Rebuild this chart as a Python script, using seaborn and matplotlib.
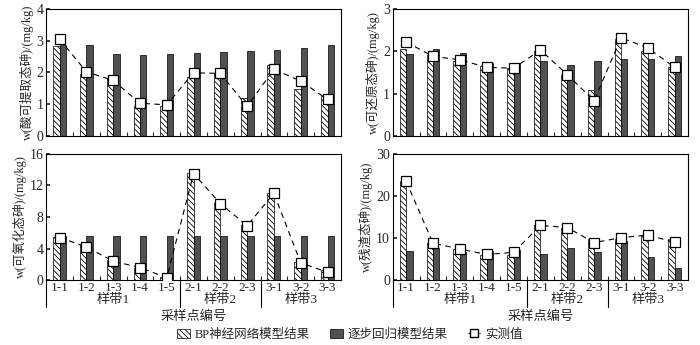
import matplotlib
matplotlib.use("Agg")
import matplotlib.pyplot as plt
import seaborn as sns
import pandas as pd
import numpy as np
from matplotlib.patches import Patch
from matplotlib.lines import Line2D

sites = ["1-1", "1-2", "1-3", "1-4", "1-5", "2-1", "2-2", "2-3", "3-1", "3-2", "3-3"]
groups = ["样带1", "样带2", "样带3"]
group_sizes = [5, 3, 3]

acid_bp = [2.82, 1.95, 1.83, 0.95, 0.95, 1.85, 1.97, 1.20, 2.25, 1.48, 1.27]
acid_sw = [2.88, 2.88, 2.58, 2.55, 2.57, 2.62, 2.63, 2.68, 2.72, 2.77, 2.85]
acid_obs = [3.05, 2.02, 1.75, 1.03, 0.98, 1.99, 1.97, 0.93, 2.10, 1.73, 1.15]

red_bp = [2.05, 1.92, 1.78, 1.65, 1.60, 2.00, 1.45, 1.08, 2.28, 2.00, 1.62]
red_sw = [1.93, 2.05, 1.95, 1.72, 1.72, 1.77, 1.68, 1.78, 1.82, 1.82, 1.88]
red_obs = [2.22, 1.88, 1.80, 1.62, 1.60, 2.03, 1.45, 0.83, 2.32, 2.08, 1.62]

oxi_bp = [5.5, 4.5, 2.5, 1.5, 0.4, 13.6, 9.8, 7.0, 11.1, 2.3, 1.3]
oxi_sw = [5.6, 5.6, 5.6, 5.6, 5.6, 5.6, 5.6, 5.6, 5.6, 5.6, 5.6]
oxi_obs = [5.4, 4.2, 2.4, 1.6, 0.3, 13.5, 9.7, 6.9, 11.0, 2.2, 1.0]

res_bp = [23.5, 8.8, 7.5, 6.0, 6.0, 13.0, 12.5, 9.8, 9.8, 10.7, 9.7]
res_sw = [7.0, 7.6, 6.6, 7.0, 7.2, 6.3, 7.7, 6.7, 9.2, 5.5, 2.9]
res_obs = [23.5, 8.8, 7.4, 6.1, 6.6, 13.0, 12.5, 8.9, 10.1, 10.7, 9.0]

ylabels = ["w(酸可提取态砷)/(mg/kg)", "w(可还原态砷)/(mg/kg)",
           "w(可氧化态砷)/(mg/kg)", "w(残渣态砷)/(mg/kg)"]
yranges = [(4, [0, 1, 2, 3, 4]), (3, [0, 1, 2, 3]),
           (16, [0, 4, 8, 12, 16]), (30, [0, 10, 20, 30])]
legend_labels = ["BP神经网络模型结果", "逐步回归模型结果", "实测值"]
xlabel = "采样点编号"

sns.set_theme(style="white")
plt.rcParams["font.family"] = ["Liberation Serif", "Noto Sans CJK SC", "DejaVu Sans"]
plt.rcParams["hatch.linewidth"] = 0.6
plt.rcParams["axes.unicode_minus"] = False

fig = plt.figure(figsize=(7.0, 3.45), dpi=100)
rects = [[0.066, 0.606, 0.421, 0.368], [0.561, 0.606, 0.422, 0.368],
         [0.066, 0.188, 0.421, 0.366], [0.561, 0.188, 0.422, 0.366]]
datasets = [(acid_bp, acid_sw, acid_obs), (red_bp, red_sw, red_obs),
            (oxi_bp, oxi_sw, oxi_obs), (res_bp, res_sw, res_obs)]
dark = "#505050"
fs = 9.5

for i, (rect, (bp, sw, obs)) in enumerate(zip(rects, datasets)):
    ax = fig.add_axes(rect)
    df = pd.DataFrame({
        "site": sites * 2,
        "value": bp + sw,
        "model": [legend_labels[0]] * len(sites) + [legend_labels[1]] * len(sites),
    })
    sns.barplot(data=df, x="site", y="value", hue="model", order=sites,
                hue_order=legend_labels[:2], palette=["white", dark],
                edgecolor="black", linewidth=0.5, width=0.48, ax=ax,
                legend=False, saturation=1)
    n = len(sites)
    for j, p in enumerate(ax.patches):
        if j < n:
            p.set_hatch("\\\\\\\\\\\\")
    ax.plot(range(n), obs, ls=(0, (5, 4)), color="black", lw=0.8,
            marker="s", ms=7.5, mfc="white", mec="black", mew=0.9, zorder=5)
    ymax, yt = yranges[i]
    ax.set_ylim(0, ymax)
    ax.set_yticks(yt)
    ax.set_xlim(-0.5, n - 0.5)
    ax.set_ylabel(ylabels[i], fontsize=9, labelpad=2)
    ax.set_xlabel("")
    for s in ax.spines.values():
        s.set_color("black")
        s.set_linewidth(0.8)
    ax.tick_params(axis="y", labelsize=10, direction="in", length=3, pad=2, left=True)
    ax.set_xticks(np.arange(0.5, n - 0.5, 1), minor=True)
    ax.tick_params(axis="x", which="minor", direction="in", length=3, bottom=True, width=0.8)
    trans = ax.get_xaxis_transform()
    if i < 2:
        ax.set_xticks([])
    else:
        ax.set_xticks(range(n))
        ax.set_xticklabels(sites, fontsize=fs)
        ax.tick_params(axis="x", which="major", length=0, pad=1)
        start = 0
        ax.plot([-0.5, -0.5], [0, -0.214], transform=trans, color="black",
                lw=0.8, clip_on=False)
        for g, size in zip(groups, group_sizes):
            center = start + (size - 1) / 2
            ax.text(center, -0.155, g, transform=trans, ha="center", va="center",
                    fontsize=fs)
            end = start + size - 0.5
            if end < n - 0.5:
                ax.plot([end, end], [0, -0.214], transform=trans, color="black",
                        lw=0.8, clip_on=False)
            start += size
        ax.text(0.5, -0.29, xlabel, transform=ax.transAxes, ha="center",
                va="center", fontsize=fs)

handles = [Patch(facecolor="white", edgecolor="black", hatch="\\\\\\\\\\\\", lw=0.5),
           Patch(facecolor=dark, edgecolor="black", lw=0.5),
           Line2D([0], [0], ls=(0, (3, 2)), color="black", lw=0.8, marker="s",
                  ms=6, mfc="white", mec="black")]
fig.legend(handles, legend_labels, loc="center", bbox_to_anchor=(0.50, 0.03),
           ncol=3, frameon=False, fontsize=9, handlelength=1.0, handletextpad=0.4,
           columnspacing=1.6, handleheight=0.7)

fig.savefig("out.png", dpi=100)
